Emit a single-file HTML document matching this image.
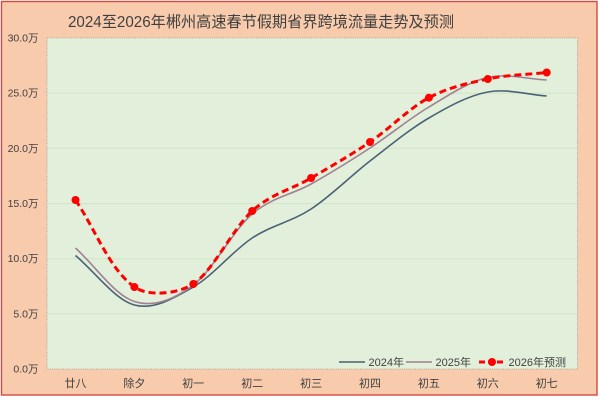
<!DOCTYPE html>
<html>
<head>
<meta charset="utf-8">
<style>
html,body{margin:0;padding:0;background:#ffffff;}
svg{display:block;}
text{font-family:"Liberation Sans","Noto Sans CJK SC",sans-serif;fill:#404040;}
</style>
</head>
<body>
<svg width="600" height="400" viewBox="0 0 600 400" xmlns="http://www.w3.org/2000/svg">
  <rect x="0" y="0" width="600" height="400" fill="#ffffff"/>
  <rect x="1.5" y="1.5" width="595.5" height="393.5" fill="#F8CBAD" stroke="#D9463C" stroke-width="1.4"/>
  <!-- title -->
  <text x="68" y="27" font-size="15.5" textLength="386" lengthAdjust="spacingAndGlyphs">2024至2026年郴州高速春节假期省界跨境流量走势及预测</text>
  <!-- plot area -->
  <rect x="47" y="38" width="530.5" height="331" fill="#E2EFDA" stroke="#9a9a9a" stroke-width="0.8" stroke-dasharray="1 1.2"/>
  <!-- gridlines -->
  <g stroke="#D3E4CA" stroke-width="1">
    <line x1="47.5" y1="93.2" x2="577" y2="93.2"/>
    <line x1="47.5" y1="148.3" x2="577" y2="148.3"/>
    <line x1="47.5" y1="203.5" x2="577" y2="203.5"/>
    <line x1="47.5" y1="258.7" x2="577" y2="258.7"/>
    <line x1="47.5" y1="313.8" x2="577" y2="313.8"/>
  </g>
  <!-- y labels -->
  <g font-size="10.5" text-anchor="end">
    <text x="38.5" y="41.5">30.0万</text>
    <text x="38.5" y="96.7">25.0万</text>
    <text x="38.5" y="151.8">20.0万</text>
    <text x="38.5" y="207">15.0万</text>
    <text x="38.5" y="262.2">10.0万</text>
    <text x="38.5" y="317.3">5.0万</text>
    <text x="38.5" y="372.5">0.0万</text>
  </g>
  <!-- x labels -->
  <g font-size="11" text-anchor="middle">
    <text x="75.5" y="387">廿八</text>
    <text x="134.4" y="387">除夕</text>
    <text x="193.3" y="387">初一</text>
    <text x="252.2" y="387">初二</text>
    <text x="311.1" y="387">初三</text>
    <text x="370" y="387">初四</text>
    <text x="428.9" y="387">初五</text>
    <text x="487.8" y="387">初六</text>
    <text x="546.7" y="387">初七</text>
  </g>
  <!-- 2024 -->
  <path fill="none" stroke="#4A6176" stroke-width="1.6" d="M75.5,255.5 C95.13,272 114.77,299.75 134.4,305 C154.03,310.25 173.67,298.17 193.3,287 C212.93,275.83 232.57,251 252.2,238 C271.83,225 291.47,221.83 311.1,209 C330.73,196.17 350.37,176.17 370,161 C389.63,145.83 409.27,129.5 428.9,118 C448.53,106.5 468.17,95.67 487.8,92 C507.43,88.33 527.07,94.67 546.7,96"/>
  <!-- 2025 -->
  <path fill="none" stroke="#9E8290" stroke-width="1.6" d="M75.5,248 C95.13,265.83 114.77,295.33 134.4,301.5 C154.03,307.67 173.67,299.58 193.3,285 C212.93,270.42 232.57,230.83 252.2,214 C271.83,197.17 291.47,195 311.1,184 C330.73,173 350.37,160.83 370,148 C389.63,135.17 409.27,118.75 428.9,107 C448.53,95.25 468.17,82 487.8,77.5 C507.43,73 527.07,79.17 546.7,80"/>
  <!-- 2026 -->
  <path fill="none" stroke="#FF0000" stroke-width="3" stroke-dasharray="7 4" d="M75.5,200 C95.13,229 109.3,269.1 134.4,287 C148.5,297 178.1,293.8 193.3,284 C212.93,271.33 232.57,228.67 252.2,211 C271.83,193.33 291.47,189.5 311.1,178 C330.73,166.5 350.37,155.38 370,142 C389.63,128.62 409.27,108.2 428.9,97.7 C448.53,87.2 468.17,83.2 487.8,79 C507.43,74.8 527.07,74.67 546.7,72.5"/>
  <g fill="#FF0000">
    <circle cx="75.5" cy="200" r="4"/>
    <circle cx="134.4" cy="287" r="4"/>
    <circle cx="193.3" cy="284" r="4"/>
    <circle cx="252.2" cy="211" r="4"/>
    <circle cx="311.1" cy="178" r="4"/>
    <circle cx="370" cy="142" r="4"/>
    <circle cx="428.9" cy="97.7" r="4"/>
    <circle cx="487.8" cy="79" r="4"/>
    <circle cx="546.7" cy="72.5" r="4"/>
  </g>
  <!-- legend -->
  <line x1="339" y1="362" x2="365" y2="362" stroke="#4A6176" stroke-width="1.6"/>
  <text x="368.5" y="366" font-size="11">2024年</text>
  <line x1="406" y1="362" x2="432" y2="362" stroke="#9E8290" stroke-width="1.6"/>
  <text x="435.5" y="366" font-size="11">2025年</text>
  <line x1="479" y1="362" x2="505" y2="362" stroke="#FF0000" stroke-width="3" stroke-dasharray="6 3"/>
  <circle cx="492" cy="362" r="4" fill="#FF0000"/>
  <text x="508.5" y="366" font-size="11">2026年预测</text>
</svg>
</body>
</html>
